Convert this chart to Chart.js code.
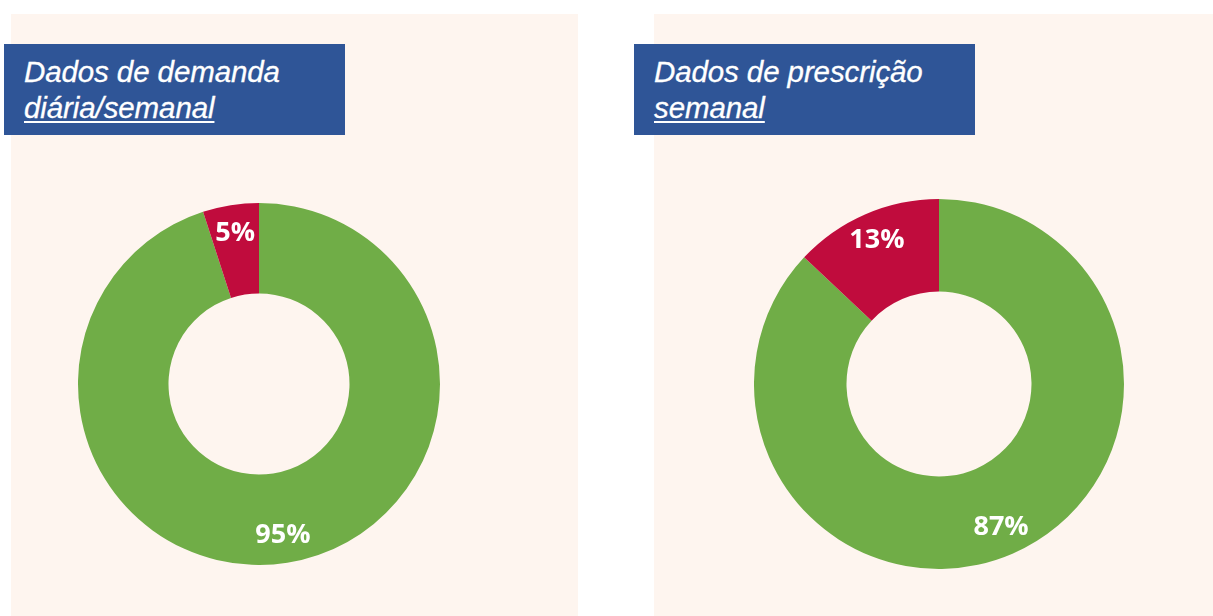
<!DOCTYPE html>
<html>
<head>
<meta charset="utf-8">
<script src="https://cdn.jsdelivr.net/npm/chart.js@4.4.1/dist/chart.umd.min.js"></script>
<style>
  body { margin: 0; width: 1213px; height: 616px; background: #fff; position: relative; overflow: hidden; }
  .panel { position: absolute; background: #fef5ef; }
  .title {
    position: absolute; background: #2f5597; color: #fff; box-sizing: border-box;
    font-family: "Liberation Sans", Arial, sans-serif; font-style: italic;
    font-size: 29.5px; line-height: 36px; letter-spacing: -0.1px;
    padding: 10px 0 0 20px;
    -webkit-text-stroke: 0.3px #fff;
  }
  .title u { text-decoration-thickness: 2px; text-underline-offset: 3px; }
  .chartBox { position: absolute; }
</style>
</head>
<body>

<div class="panel" style="left:11px; top:14px; width:567px; height:602px;"></div>
<div class="panel" style="left:654px; top:14px; width:559px; height:602px;"></div>

<div class="title" style="left:4px; top:44px; width:341px; height:91px;">Dados de demanda<br><u>diária/semanal</u></div>
<div class="title" style="left:634px; top:44px; width:341px; height:91px;">Dados de prescrição<br><u>semanal</u></div>

<div class="chartBox" style="left:78px; top:203px; width:362px; height:362px;"><canvas id="demandaChart"></canvas></div>
<div class="chartBox" style="left:754px; top:199px; width:370px; height:370px;"><canvas id="prescricaoChart"></canvas></div>

<script>
// ==========================================
// DADOS
// ==========================================
const categories = ['Com dados', 'Sem dados'];
const demandaValues = [95, 5];
const prescricaoValues = [87, 13];
const sliceColors = ['#70ad47', '#c00c3d'];

// etiquetas de percentagem dentro de cada fatia
const pctLabels = {
  id: 'pctLabels',
  afterDatasetsDraw(chart) {
    const ctx = chart.ctx;
    const meta = chart.getDatasetMeta(0);
    const data = chart.data.datasets[0].data;
    ctx.save();
    ctx.fillStyle = '#ffffff';
    ctx.font = 'bold 27px "Open Sans", sans-serif';
    ctx.textAlign = 'center';
    ctx.textBaseline = 'middle';
    meta.data.forEach((arc, i) => {
      const p = arc.getProps(['x', 'y', 'startAngle', 'endAngle', 'innerRadius', 'outerRadius'], true);
      const a = (p.startAngle + p.endAngle) / 2;
      const r = p.innerRadius + (p.outerRadius - p.innerRadius) * 0.69;
      ctx.fillText(data[i] + '%', p.x + Math.cos(a) * r, p.y + Math.sin(a) * r);
    });
    ctx.restore();
  }
};

function createDonut(canvas, values) {
  return new Chart(canvas, {
    type: 'doughnut',
    data: {
      labels: categories,
      datasets: [{
        data: values,
        backgroundColor: sliceColors,
        borderWidth: 0
      }]
    },
    options: {
      responsive: true,
      maintainAspectRatio: false,
      animation: false,
      cutout: '50%',
      layout: { padding: 0 },
      plugins: {
        legend: { display: false },
        tooltip: { enabled: false }
      }
    },
    plugins: [pctLabels]
  });
}

createDonut(document.getElementById('demandaChart'), demandaValues);
createDonut(document.getElementById('prescricaoChart'), prescricaoValues);
</script>
</body>
</html>
